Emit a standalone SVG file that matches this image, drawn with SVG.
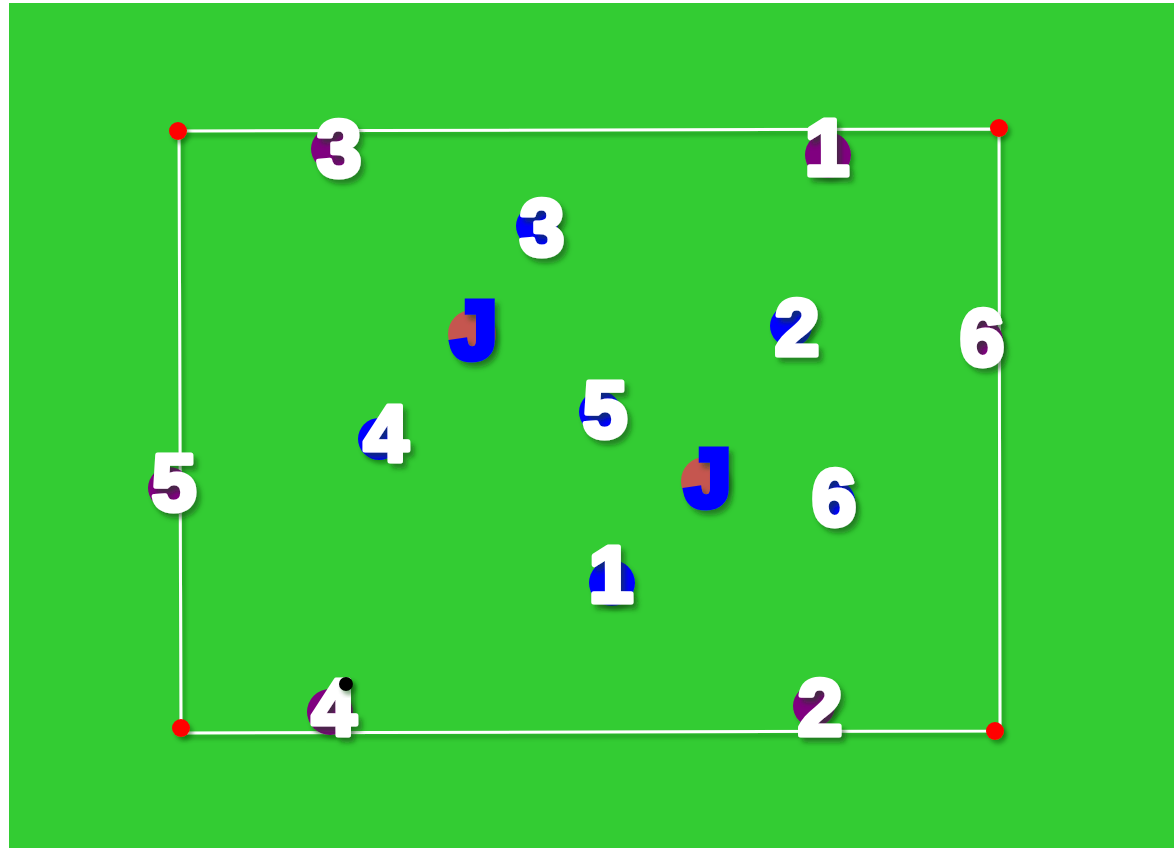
<svg xmlns="http://www.w3.org/2000/svg" width="1174" height="848" viewBox="0 0 1174 848">
<defs>
<filter id="sh" x="-50%" y="-50%" width="200%" height="200%">
<feDropShadow dx="4" dy="5" stdDeviation="2.5" flood-color="#0a4a0a" flood-opacity="0.55"/>
</filter>
<filter id="shs" x="-50%" y="-50%" width="200%" height="200%">
<feDropShadow dx="3" dy="4" stdDeviation="2" flood-color="#0a4a0a" flood-opacity="0.45"/>
</filter>
</defs>
<style>
.num{font-family:"Liberation Sans",Arial,sans-serif;font-weight:bold;font-size:80px;text-anchor:middle;fill:#ffffff;stroke:#ffffff;stroke-width:5;stroke-linejoin:round;filter:url(#sh)}
.jn{font-family:"Liberation Sans",Arial,sans-serif;font-weight:bold;font-size:82px;text-anchor:middle;fill:#0000ff;stroke:#0000ff;stroke-width:7;filter:url(#sh)}
.pu{fill:#800080;filter:url(#shs)}
.bl{fill:#0000ff;filter:url(#shs)}
.jc{fill:#c5574f;filter:url(#shs)}
.cone{fill:#ff0000;filter:url(#shs)}
.line{stroke:#ffffff;stroke-width:3;fill:none;filter:url(#shs)}
</style>
<rect x="9" y="3" width="1165" height="845" fill="#33cc33"/>
<g id="connectors">
<path class="line" d="M179,131 L999,129 L1000,731 L181,733 Z"/>
</g>
<g id="cone-tl"><circle class="cone" cx="178" cy="131" r="9"/></g>
<g id="cone-tr"><circle class="cone" cx="999" cy="128" r="9"/></g>
<g id="cone-bl"><circle class="cone" cx="181" cy="728" r="9"/></g>
<g id="cone-br"><circle class="cone" cx="995" cy="731" r="9"/></g>
<g id="p3"><circle class="pu" cx="332" cy="149" r="21"/><text class="num" x="339" y="176">3</text></g>
<g id="p1"><circle class="pu" cx="828" cy="155" r="23"/><text class="num" x="827" y="175">1</text></g>
<g id="b3"><circle class="bl" cx="537" cy="226" r="21"/><text class="num" x="542" y="255">3</text></g>
<g id="j1"><circle class="jc" cx="472" cy="334" r="24"/><text class="jn" x="474" y="358">J</text></g>
<g id="b2"><circle class="bl" cx="791" cy="326" r="21"/><text class="num" x="797" y="355">2</text></g>
<g id="p6"><circle class="pu" cx="982" cy="340" r="21"/><text class="num" x="982" y="365">6</text></g>
<g id="b4"><circle class="bl" cx="379" cy="439" r="21"/><text class="num" x="386" y="461">4</text></g>
<g id="b5"><circle class="bl" cx="600" cy="412" r="21"/><text class="num" x="605" y="437">5</text></g>
<g id="j2"><circle class="jc" cx="705" cy="481" r="24"/><text class="jn" x="708" y="506">J</text></g>
<g id="b6"><circle class="bl" cx="834" cy="501" r="21"/><text class="num" x="834" y="525">6</text></g>
<g id="p5"><circle class="pu" cx="169" cy="488" r="21"/><text class="num" x="174" y="510">5</text></g>
<g id="b1"><circle class="bl" cx="612" cy="583" r="23"/><text class="num" x="611" y="602">1</text></g>
<g id="p4"><circle class="pu" cx="330" cy="712" r="23"/><text class="num" x="334" y="735">4</text><circle cx="346" cy="684" r="7" fill="#000000" filter="url(#shs)"/></g>
<g id="p2"><circle class="pu" cx="814" cy="706" r="21"/><text class="num" x="820" y="735">2</text></g>
</svg>
